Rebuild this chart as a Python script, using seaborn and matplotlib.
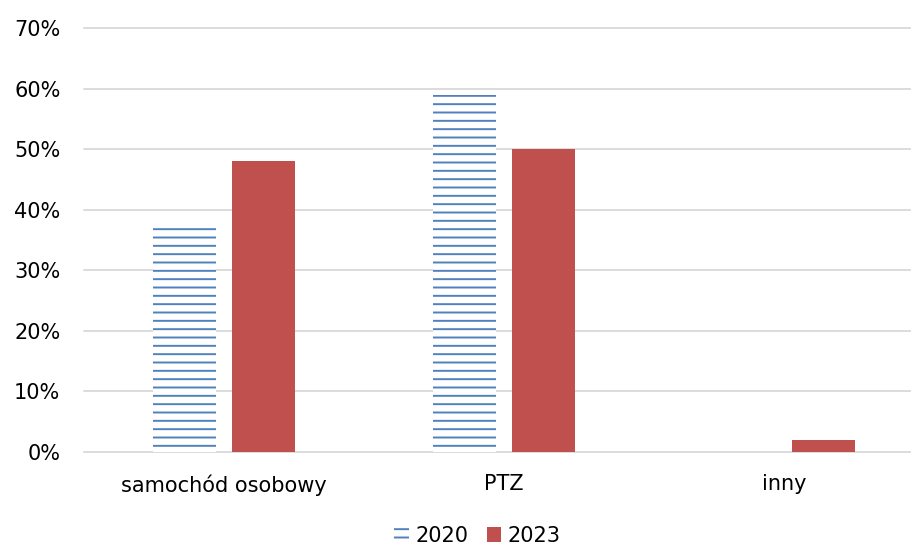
import matplotlib
matplotlib.use("Agg")
import matplotlib.pyplot as plt
import seaborn as sns
import pandas as pd
from matplotlib.ticker import FuncFormatter

categories = ["samochód osobowy", "PTZ", "inny"]
years = ["2020", "2023"]
values_2020 = [38, 59, 0]
values_2023 = [48, 50, 2]
y_ticks = [0, 10, 20, 30, 40, 50, 60, 70]

blue = "#4F81BD"
red = "#C0504D"

df = pd.DataFrame({
    "kategoria": categories * 2,
    "rok": [years[0]] * len(categories) + [years[1]] * len(categories),
    "udzial": values_2020 + values_2023,
})

sns.set_theme(style="white")
plt.rcParams["font.family"] = ["DejaVu Sans"]
plt.rcParams["hatch.linewidth"] = 1.4
plt.rcParams["hatch.color"] = blue

fig = plt.figure(figsize=(9.12, 5.45), dpi=100)
ax = fig.add_axes([84 / 912, 93 / 545, 1 - 84 / 912, (452 - 28) / 545])

sns.barplot(data=df, x="kategoria", y="udzial", hue="rok", order=categories,
            hue_order=years, palette=["white", red], width=0.5714, gap=0.2125,
            saturation=1, linewidth=0, ax=ax, legend=True, zorder=3)

# 2020 bars: white fill with blue horizontal hatching
for bar in ax.containers[0]:
    bar.set_hatch("--")
    bar.set_edgecolor(blue)
    bar.set_linewidth(0)
for bar in ax.containers[1]:
    bar.set_edgecolor("none")

ax.set_ylim(0, 70)
ax.set_yticks(y_ticks)
ax.yaxis.set_major_formatter(FuncFormatter(lambda v, _: f"{v:.0f}%"))
ax.set_xlim(-0.5, 2.5 - 12 / 280)
ax.grid(axis="y", color="#D9D9D9", linewidth=1.3, zorder=0)
ax.set_axisbelow(True)
for gl in ax.get_ygridlines():
    gl.set_clip_on(False)
for s in ax.spines.values():
    s.set_visible(False)
ax.tick_params(axis="y", length=0, pad=17, labelsize=15, labelcolor="black")
ax.tick_params(axis="x", length=0, pad=16, labelsize=15, labelcolor="black")
ax.set_xlabel("")
ax.set_ylabel("")

handles, labels = ax.get_legend_handles_labels()
ax.legend_.remove()
handles[0].set_hatch("--")
handles[0].set_edgecolor(blue)
handles[0].set_linewidth(0)
handles[1].set_edgecolor("none")
fig.legend(handles, labels, loc="center", bbox_to_anchor=(477.5 / 912, 1 - 536 / 545),
           ncol=2, frameon=False, fontsize=15, labelcolor="black",
           handlelength=0.7, handleheight=0.7, handletextpad=0.3,
           columnspacing=0.9, borderaxespad=0, borderpad=0)

fig.savefig("out.png", dpi=100)
